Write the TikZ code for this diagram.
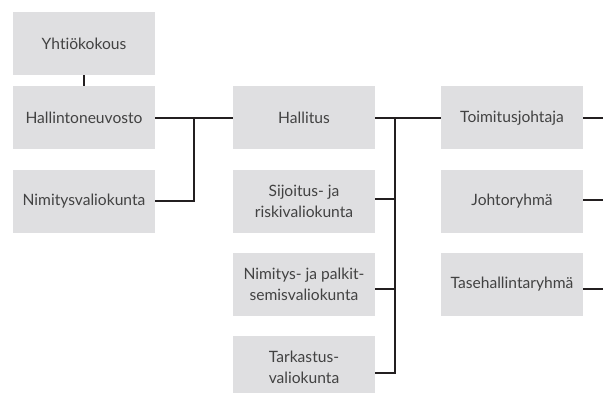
\documentclass[tikz,border=0pt]{standalone}
\usepackage{fontspec}
\setmainfont{Lato}[Ligatures=NoCommon]
\definecolor{boxfill}{RGB}{223,223,225}
\definecolor{txt}{RGB}{66,66,66}
\definecolor{ln}{RGB}{35,31,32}
\begin{document}
\begin{tikzpicture}[x=1pt,y=-1pt,
  orgbox/.style={rectangle, fill=boxfill, minimum width=142pt, minimum height=63pt, inner sep=0pt,
    align=center, text=txt, font=\fontsize{15.6}{20.5}\selectfont},
  conn/.style={draw=ln, line width=2pt}]
\useasboundingbox (0,0) rectangle (603,393);
\clip (0,0) rectangle (603,393);
\node[orgbox] (Y) at (84,43.5) {Yhtiökokous};
\node[orgbox] (HN) at (84,118) {Hallintoneuvosto};
\node[orgbox] (NV) at (84,201.5) {Nimitysvaliokunta};
\node[orgbox] (H) at (304,118) {Hallitus};
\node[orgbox] (Sij) at (304,201.5) {Sijoitus- ja\\riskivaliokunta};
\node[orgbox] (Nim) at (304,284.5) {Nimitys- ja palkit-\\semisvaliokunta};
\node[orgbox] (Tark) at (304,367.5) {Tarkastus-\\valiokunta};
\node[orgbox] (TJ) at (512,118) {Toimitusjohtaja};
\node[orgbox] (JR) at (512,201.5) {Johtoryhmä};
\node[orgbox] (TH) at (512,284.5) {Tasehallintaryhmä};
\coordinate (j1) at (194,118);
\coordinate (b0) at (394.5,118);
\coordinate (b1) at (394.5,199);
\coordinate (b2) at (394.5,289);
\coordinate (b3) at (394.5,373);
\coordinate (r1) at (603,118);
\coordinate (r2) at (603,200);
\coordinate (r3) at (603,289);
\draw[conn] (Y.south) -- (HN.north);
\draw[conn] (HN.east) -- (H.west);
\draw[conn] (NV.east) -| (j1);
\draw[conn] (H.east) -- (TJ.west);
\draw[conn] (b0) -- (b3);
\draw[conn] (Sij.east |- b1) -- (b1);
\draw[conn] (Nim.east |- b2) -- (b2);
\draw[conn] (Tark.east |- b3) -- ([xshift=1pt]b3);
\draw[conn] (TJ.east) -- (r1);
\draw[conn] (JR.east |- r2) -- (r2);
\draw[conn] (TH.east |- r3) -- (r3);
\end{tikzpicture}
\end{document}
